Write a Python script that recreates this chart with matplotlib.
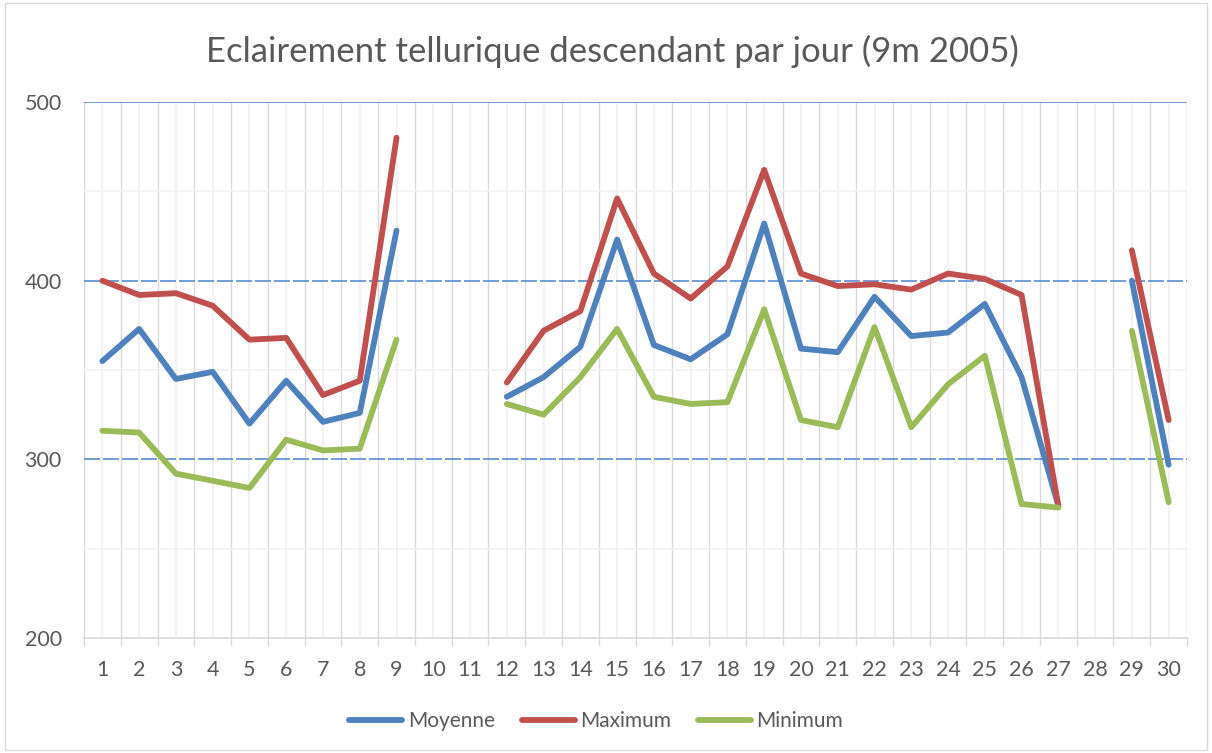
import numpy as np
import matplotlib
matplotlib.use("Agg")
import matplotlib.pyplot as plt
from matplotlib.patches import Rectangle

nan = np.nan
days = list(range(1, 31))
day_labels = [str(d) for d in days]
moyenne = [355, 373, 345, 349, 320, 344, 321, 326, 428, nan,
           nan, 335, 346, 363, 423, 364, 356, 370, 432, 362,
           360, 391, 369, 371, 387, 346, 274, nan, 400, 297]
maximum = [400, 392, 393, 386, 367, 368, 336, 344, 480, nan,
           nan, 343, 372, 383, 446, 404, 390, 408, 462, 404,
           397, 398, 395, 404, 401, 392, 274, nan, 417, 322]
minimum = [316, 315, 292, 288, 284, 311, 305, 306, 367, nan,
           nan, 331, 325, 346, 373, 335, 331, 332, 384, 322,
           318, 374, 318, 342, 358, 275, 273, nan, 372, 276]
series = [("Moyenne", moyenne, "#4f81bd"),
          ("Maximum", maximum, "#c0504d"),
          ("Minimum", minimum, "#9bbb59")]
title = "Eclairement tellurique descendant par jour (9m 2005)"

plt.rcParams['font.family'] = ['Lato', 'DejaVu Sans']
txt = "#595959"

fig = plt.figure(figsize=(12.12, 7.53), dpi=100)
fig.patches.append(Rectangle((0.004, 0.004), 0.992, 0.992, transform=fig.transFigure,
                             fill=False, edgecolor="#d9d9d9", linewidth=1.0))
ax = fig.add_axes([0.0693, 0.1527, 0.9101, 0.7118])

x = np.array(days, dtype=float)
for name, vals, col in series:
    ax.plot(x, np.array(vals, dtype=float), color=col, lw=4.2, label=name,
            solid_capstyle="round", solid_joinstyle="round", zorder=3)

ax.set_xlim(0.5, 30.5)
ax.set_ylim(200, 500)

# vertical grid: boundaries (major) and centres (minor)
for b in np.arange(0.5, 31, 1.0):
    ax.axvline(b, color="#d9d9d9", lw=1.0, zorder=1)
for c in x:
    ax.axvline(c, color="#f2f2f2", lw=1.6, zorder=1)
# horizontal grid
for yv in [250, 350, 450]:
    ax.axhline(yv, color="#f2f2f2", lw=1.2, zorder=1)
for yv in [300, 400]:
    ax.axhline(yv, color="#5b8bd0", lw=1.2, dashes=(9.6, 1.8), zorder=2)
ax.axhline(500, color="#5b8bd0", lw=1.2, zorder=2)

for s in ["top", "right", "left"]:
    ax.spines[s].set_visible(False)
ax.spines["bottom"].set_color("#d9d9d9")
ax.spines["bottom"].set_linewidth(1.2)

ax.set_xticks(x)
ax.set_xticklabels(day_labels)
ax.set_xticks(np.arange(0.5, 31, 1.0), minor=True)
ax.tick_params(axis="x", which="major", length=0, pad=16, labelsize=15.5, labelcolor=txt)
ax.tick_params(axis="x", which="minor", length=6, width=1.0, color="#d9d9d9", direction="out")
ax.set_yticks([200, 300, 400, 500])
ax.tick_params(axis="y", length=0, pad=16, labelsize=15.5, labelcolor=txt)

fig.text(0.505, 0.932, title, ha="center", va="center", fontsize=25, color=txt)

leg = fig.legend(loc="center", bbox_to_anchor=(0.492, 0.042), ncol=3, frameon=False,
                 fontsize=15, handlelength=2.55, handletextpad=0.25, columnspacing=1.3)
for t in leg.get_texts():
    t.set_color(txt)
for h in leg.legend_handles:
    h.set_linewidth(4.2)
    h.set_solid_capstyle("round")

fig.savefig("out.png", dpi=100)
